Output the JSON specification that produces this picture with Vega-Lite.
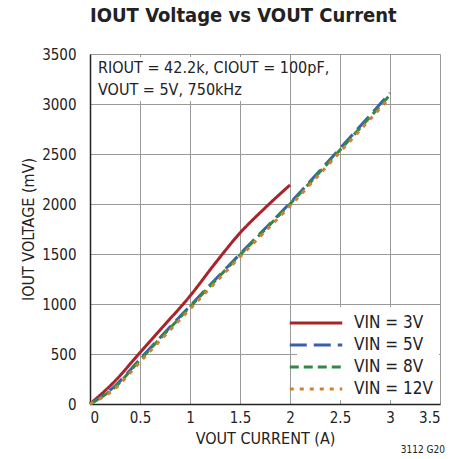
{
  "$schema": "https://vega.github.io/schema/vega-lite/v6.json",
  "width": 350,
  "height": 350,
  "autosize": {"type": "none"},
  "padding": {"left": 90, "top": 54, "right": 15, "bottom": 55},
  "background": "white",
  "title": {
    "text": "IOUT Voltage vs VOUT Current",
    "anchor": "start",
    "frame": "group",
    "font": "DejaVu Sans Condensed, Roboto",
    "fontSize": 20,
    "fontWeight": "bold",
    "color": "#222222",
    "offset": 21
  },
  "config": {
    "font": "DejaVu Sans Condensed, Roboto",
    "view": {"stroke": null},
    "axis": {
      "labelFont": "DejaVu Sans Condensed, Roboto",
      "titleFont": "DejaVu Sans Condensed, Roboto",
      "labelFontSize": 15,
      "titleFontSize": 16,
      "titleFontWeight": "normal",
      "labelColor": "#222222",
      "titleColor": "#222222",
      "gridColor": "#999999",
      "gridWidth": 1,
      "gridOpacity": 1,
      "domainColor": "#222222",
      "domainWidth": 1.5,
      "ticks": false
    },
    "legend": {
      "labelFont": "DejaVu Sans Condensed, Roboto",
      "labelFontSize": 17,
      "labelColor": "#222222"
    }
  },
  "data": {
    "values": [
      {"s": "VIN = 3V", "x": 0, "y": 0},
      {"s": "VIN = 3V", "x": 0.25, "y": 230},
      {"s": "VIN = 3V", "x": 0.5, "y": 515},
      {"s": "VIN = 3V", "x": 0.75, "y": 795},
      {"s": "VIN = 3V", "x": 1.0, "y": 1080},
      {"s": "VIN = 3V", "x": 1.25, "y": 1405},
      {"s": "VIN = 3V", "x": 1.5, "y": 1710},
      {"s": "VIN = 3V", "x": 1.75, "y": 1960},
      {"s": "VIN = 3V", "x": 2.0, "y": 2190},
      {"s": "VIN = 5V", "x": 0, "y": 0},
      {"s": "VIN = 5V", "x": 0.25, "y": 180},
      {"s": "VIN = 5V", "x": 0.5, "y": 450},
      {"s": "VIN = 5V", "x": 1.0, "y": 980},
      {"s": "VIN = 5V", "x": 1.5, "y": 1500},
      {"s": "VIN = 5V", "x": 2.0, "y": 2010},
      {"s": "VIN = 5V", "x": 2.5, "y": 2555},
      {"s": "VIN = 5V", "x": 3.0, "y": 3110},
      {"s": "VIN = 8V", "x": 0, "y": 0},
      {"s": "VIN = 8V", "x": 0.25, "y": 170},
      {"s": "VIN = 8V", "x": 0.5, "y": 440},
      {"s": "VIN = 8V", "x": 1.0, "y": 970},
      {"s": "VIN = 8V", "x": 1.5, "y": 1490},
      {"s": "VIN = 8V", "x": 2.0, "y": 2000},
      {"s": "VIN = 8V", "x": 2.5, "y": 2540},
      {"s": "VIN = 8V", "x": 3.0, "y": 3090},
      {"s": "VIN = 12V", "x": 0, "y": 0},
      {"s": "VIN = 12V", "x": 0.25, "y": 155},
      {"s": "VIN = 12V", "x": 0.5, "y": 420},
      {"s": "VIN = 12V", "x": 1.0, "y": 950},
      {"s": "VIN = 12V", "x": 1.5, "y": 1470},
      {"s": "VIN = 12V", "x": 2.0, "y": 1980},
      {"s": "VIN = 12V", "x": 2.5, "y": 2520},
      {"s": "VIN = 12V", "x": 3.0, "y": 3065}
    ]
  },
  "layer": [
    {
      "data": {"values": [{}]},
      "mark": {"type": "rect", "fill": "white"},
      "encoding": {
        "x": {"datum": 0.04, "type": "quantitative", "scale": {"domain": [0, 3.5], "nice": false}},
        "x2": {"datum": 1.88},
        "y": {"datum": 3030, "type": "quantitative", "scale": {"domain": [0, 3500], "nice": false}},
        "y2": {"datum": 3470}
      }
    },
    {
      "data": {"values": [{}]},
      "mark": {"type": "rect", "fill": "white"},
      "encoding": {
        "x": {"datum": 2.07, "type": "quantitative"},
        "x2": {"datum": 3.49},
        "y": {"datum": 40, "type": "quantitative"},
        "y2": {"datum": 970}
      }
    },
    {
      "mark": {"type": "line", "strokeWidth": 3, "interpolate": "monotone"},
      "encoding": {
        "x": {
          "field": "x", "type": "quantitative",
          "scale": {"domain": [0, 3.5], "nice": false},
          "axis": {"values": [0, 0.5, 1, 1.5, 2, 2.5, 3, 3.5], "format": "~g", "title": "VOUT CURRENT (A)", "labelPadding": 6, "titlePadding": 5, "grid": true}
        },
        "y": {
          "field": "y", "type": "quantitative",
          "scale": {"domain": [0, 3500], "nice": false},
          "axis": {"values": [0, 500, 1000, 1500, 2000, 2500, 3000, 3500], "format": "d", "title": "IOUT VOLTAGE (mV)", "labelPadding": 14, "titlePadding": 5, "grid": true}
        },
        "color": {
          "field": "s", "type": "nominal",
          "scale": {"domain": ["VIN = 3V", "VIN = 5V", "VIN = 8V", "VIN = 12V"], "range": ["#a8242b", "#3a5fae", "#2f8a45", "#d17f35"]},
          "legend": {
            "title": null,
            "orient": "bottom-right",
            "offset": 7,
            "padding": 0,
            "symbolType": "M-2.5,0H2.5",
            "symbolSize": 441,
            "symbolStrokeWidth": 3,
            "rowPadding": 2,
            "labelOffset": 26
          }
        },
        "strokeDash": {
          "field": "s", "type": "nominal",
          "scale": {"domain": ["VIN = 3V", "VIN = 5V", "VIN = 8V", "VIN = 12V"], "range": [[1, 0], [17, 7], [9, 5], [4, 6]]},
          "legend": null
        },
        "order": {"field": "x", "type": "quantitative"}
      }
    },
    {
      "data": {"values": [{}]},
      "mark": {"type": "text", "align": "left", "baseline": "top", "fontSize": 16, "lineHeight": 22, "color": "#222222", "font": "DejaVu Sans Condensed, Roboto"},
      "encoding": {
        "x": {"datum": 0.08, "type": "quantitative"},
        "y": {"datum": 3440, "type": "quantitative"},
        "text": {"value": ["RIOUT = 42.2k, CIOUT = 100pF,", "VOUT = 5V, 750kHz"]}
      }
    },
    {
      "data": {"values": [{}]},
      "mark": {"type": "text", "align": "right", "baseline": "middle", "fontSize": 10, "color": "#222222", "font": "DejaVu Sans Condensed, Roboto"},
      "encoding": {
        "x": {"datum": 3.55, "type": "quantitative"},
        "y": {"datum": -460, "type": "quantitative"},
        "text": {"value": "3112 G20"}
      }
    }
  ]
}
